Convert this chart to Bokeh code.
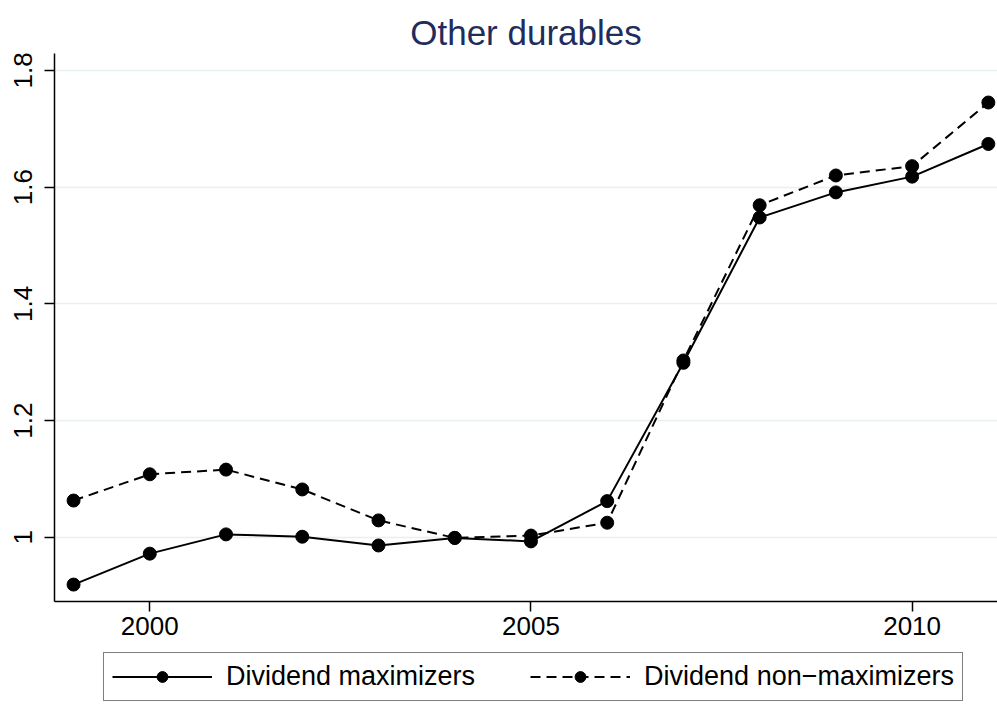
from bokeh.plotting import figure
from bokeh.layouts import column
from bokeh.models import Range1d, FixedTicker, Legend, LegendItem
from bokeh.embed import file_html
from bokeh.resources import INLINE

years = [1999, 2000, 2001, 2002, 2003, 2004, 2005, 2006, 2007, 2008, 2009, 2010, 2011]
maximizers = [0.919, 0.972, 1.005, 1.001, 0.986, 0.999, 0.993, 1.062, 1.299, 1.548, 1.591, 1.618, 1.674]
non_maximizers = [1.063, 1.108, 1.116, 1.082, 1.029, 0.999, 1.003, 1.025, 1.303, 1.569, 1.620, 1.636, 1.745]

x_ticks = [2000, 2005, 2010]
y_ticks = [1, 1.2, 1.4, 1.6, 1.8]
y_tick_labels = ["1", "1.2", "1.4", "1.6", "1.8"]

title_text = "Other durables"
label_max = "Dividend maximizers"
label_non = "Dividend non\u2212maximizers"

FONT = "Liberation Sans"

p = figure(frame_width=943, frame_height=548, output_backend="svg", toolbar_location=None,
           x_range=Range1d(1998.75, 2011.12), y_range=Range1d(0.89, 1.829),
           min_border_left=54, min_border_right=0, min_border_top=53, min_border_bottom=51)

p.title.text = title_text
p.title.align = "center"
p.title.text_font = FONT
p.title.text_font_size = "35px"
p.title.text_font_style = "normal"
p.title.text_color = "#1f2d5c"
p.title.standoff = 4

p.outline_line_color = None
p.background_fill_color = "white"
p.border_fill_color = "white"

p.xgrid.grid_line_color = None
p.ygrid.grid_line_color = "#e8f0f0"
p.ygrid.grid_line_width = 1.5

p.xaxis.ticker = FixedTicker(ticks=x_ticks)
p.yaxis.ticker = FixedTicker(ticks=y_ticks)
p.yaxis.major_label_overrides = {t: l for t, l in zip(y_ticks, y_tick_labels)}
p.yaxis.major_label_orientation = "vertical"

for ax in (p.xaxis, p.yaxis):
    ax.axis_line_color = "black"
    ax.axis_line_width = 1.5
    ax.major_tick_line_color = "black"
    ax.major_tick_line_width = 1.5
    ax.major_tick_out = 10
    ax.major_tick_in = 0
    ax.minor_tick_line_color = None
    ax.major_label_text_font = FONT
    ax.major_label_text_font_size = "26px"
    ax.major_label_text_color = "black"

p.xaxis.major_label_standoff = 5
p.yaxis.major_label_standoff = 12

p.line(years, maximizers, line_color="black", line_width=2)
p.scatter(years, maximizers, size=13, fill_color="black", line_color="black")
p.line(years, non_maximizers, line_color="black", line_width=2, line_dash="10 6")
p.scatter(years, non_maximizers, size=13, fill_color="black", line_color="black")

# Legend strip below the chart; its series sit outside its (hidden) ranges,
# so only the legend is visible.
q = figure(frame_width=997, frame_height=54, output_backend="svg", toolbar_location=None,
           x_range=Range1d(0, 1), y_range=Range1d(0, 1),
           x_axis_location=None, y_axis_location=None,
           min_border_left=0, min_border_right=0, min_border_top=0, min_border_bottom=0)
q.outline_line_color = None
q.xgrid.grid_line_color = None
q.ygrid.grid_line_color = None
q.border_fill_color = "white"
q.background_fill_color = "white"

ql1 = q.line(years, maximizers, line_color="black", line_width=2)
qs1 = q.scatter(years, maximizers, size=13, fill_color="black", line_color="black")
ql2 = q.line(years, non_maximizers, line_color="black", line_width=2, line_dash="10 6")
qs2 = q.scatter(years, non_maximizers, size=13, fill_color="black", line_color="black")

legend = Legend(items=[LegendItem(label=label_max, renderers=[ql1, qs1]),
                       LegendItem(label=label_non, renderers=[ql2, qs2])],
                orientation="horizontal", location=(103, 5))
legend.label_text_font = FONT
legend.label_text_font_size = "27px"
legend.label_text_color = "black"
legend.glyph_width = 100
legend.glyph_height = 27
legend.label_standoff = 14
legend.spacing = 55
legend.padding = 8
legend.margin = 0
legend.border_line_color = "black"
legend.border_line_width = 1
legend.background_fill_color = "white"
legend.background_fill_alpha = 1
q.add_layout(legend, "center")

layout = column(p, q, spacing=0)
open("out.html", "w").write(file_html(layout, INLINE))
